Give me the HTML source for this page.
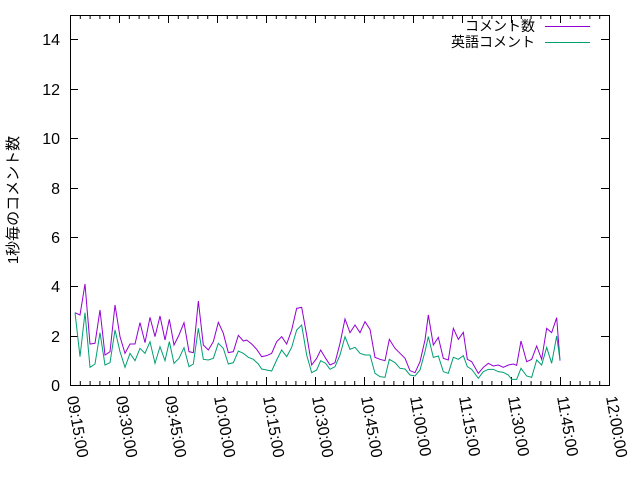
<!DOCTYPE html>
<html><head><meta charset="utf-8"><style>
html,body{margin:0;padding:0;background:#fff;}
svg{display:block;font-family:"Liberation Sans","Noto Sans CJK JP",sans-serif;}
</style></head><body>
<svg width="640" height="480" xmlns="http://www.w3.org/2000/svg">
<rect width="640" height="480" fill="#fff"/>
<g stroke="#000" stroke-width="1" fill="none">
<path d="M70.5,15.5 V385.5 H609.5 V15.5 Z"/>
<path d="M70,385.5h8M70,336.5h8M70,286.5h8M70,237.5h8M70,188.5h8M70,138.5h8M70,89.5h8M70,39.5h8
M609,385.5h-8M609,336.5h-8M609,286.5h-8M609,237.5h-8M609,188.5h-8M609,138.5h-8M609,89.5h-8M609,39.5h-8"/>
<path id="xt" d="M70.5,385v-8M119.5,385v-8M168.5,385v-8M217.5,385v-8M266.5,385v-8M315.5,385v-8M364.5,385v-8M413.5,385v-8M462.5,385v-8M511.5,385v-8M560.5,385v-8M609.5,385v-8
M80.3,385v-4M90.1,385v-4M99.9,385v-4M109.7,385v-4M129.3,385v-4M139.1,385v-4M148.9,385v-4M158.7,385v-4M178.3,385v-4M188.1,385v-4M197.9,385v-4M207.7,385v-4M227.3,385v-4M237.1,385v-4M246.9,385v-4M256.7,385v-4M276.3,385v-4M286.1,385v-4M295.9,385v-4M305.7,385v-4M325.3,385v-4M335.1,385v-4M344.9,385v-4M354.7,385v-4M374.3,385v-4M384.1,385v-4M393.9,385v-4M403.7,385v-4M423.3,385v-4M433.1,385v-4M442.9,385v-4M452.7,385v-4M472.3,385v-4M482.1,385v-4M491.9,385v-4M501.7,385v-4M521.3,385v-4M531.1,385v-4M540.9,385v-4M550.7,385v-4M570.3,385v-4M580.1,385v-4M589.9,385v-4M599.7,385v-4"/>
<use href="#xt" transform="translate(0,400) scale(1,-1)"/>
</g>
<g font-size="16" fill="#000" text-anchor="end">
<text x="60" y="391">0</text><text x="60" y="342">2</text><text x="60" y="292">4</text><text x="60" y="243">6</text><text x="60" y="194">8</text><text x="60" y="144">10</text><text x="60" y="95">12</text><text x="60" y="45">14</text>
</g>
<g font-size="16" fill="#000">
<text transform="translate(67,397) rotate(80)">09:15:00</text>
<text transform="translate(116,397) rotate(80)">09:30:00</text>
<text transform="translate(165,397) rotate(80)">09:45:00</text>
<text transform="translate(214,397) rotate(80)">10:00:00</text>
<text transform="translate(263,397) rotate(80)">10:15:00</text>
<text transform="translate(312,397) rotate(80)">10:30:00</text>
<text transform="translate(361,397) rotate(80)">10:45:00</text>
<text transform="translate(410,397) rotate(80)">11:00:00</text>
<text transform="translate(459,397) rotate(80)">11:15:00</text>
<text transform="translate(508,397) rotate(80)">11:30:00</text>
<text transform="translate(557,397) rotate(80)">11:45:00</text>
<text transform="translate(606,397) rotate(80)">12:00:00</text>
<text transform="translate(18,200) rotate(-90)" text-anchor="middle" font-size="15">1秒毎のコメント数</text>
<text x="535" y="31" text-anchor="end" font-size="14">コメント数</text>
<text x="535" y="47" text-anchor="end" font-size="14">英語コメント</text>
</g>
<path d="M545,26.5h45" stroke="#9400d3"/>
<path d="M545,42.5h45" stroke="#009e73"/>
<g fill="none" stroke-width="1">
<g transform="translate(60,270) scale(0.33333)">
<polyline vector-effect="non-scaling-stroke" stroke="#9400d3" points="45,128 60,135 75,42 90,222 105,220 120,120 135,255 150,245 165,105 180,200 195,250 210,222 225,222 240,158 255,218 270,142 285,200 300,138 315,210 328,148 342,225 357,195 372,158 387,245 400,248 415,93 430,225 445,240 460,215 475,157 490,190 505,248 520,245 535,196 550,213 560,210 575,222 590,238 605,260 620,257 635,250 650,215 665,200 680,222 695,180 710,115 725,112 740,195 755,285 770,265 782,240 797,265 810,285"/>
<polyline vector-effect="non-scaling-stroke" stroke="#009e73" points="45,128 60,260 75,128 90,292 105,282 120,188 135,285 150,278 165,180 180,245 195,292 210,250 225,272 240,235 255,250 270,215 285,280 300,230 315,272 328,215 342,280 357,265 372,233 387,290 400,282 415,175 430,268 445,270 460,265 475,220 490,235 505,282 520,278 535,243 550,250 565,262 580,268 595,282 605,297 620,300 635,303 650,270 665,240 680,260 695,232 710,180 725,165 740,255 755,308 770,300 782,272 797,280 810,298"/>
</g>
<g transform="translate(330,270) scale(0.33333)">
<polyline vector-effect="non-scaling-stroke" stroke="#9400d3" points="0,285 15,278 30,220 45,147 60,188 75,165 90,188 105,155 120,178 135,262 150,268 165,272 178,208 195,235 210,250 225,265 240,302 255,308 270,275 285,210 295,135 310,225 325,202 340,265 355,270 370,175 385,208 400,187 412,268 425,275 445,310 460,292 475,280 490,288 505,285 520,292 535,285 550,282 560,286 573,213 590,275 605,268 620,228 635,268 650,175 665,188 680,143 690,272"/>
<polyline vector-effect="non-scaling-stroke" stroke="#009e73" points="0,298 15,290 30,255 45,200 60,238 75,232 90,250 105,255 120,255 135,310 150,320 165,322 178,268 195,278 210,295 225,297 240,315 255,318 270,300 285,245 295,200 310,262 325,258 340,305 355,310 370,262 385,268 400,257 412,290 425,298 445,325 460,305 475,298 490,298 505,305 520,307 535,315 545,328 560,328 573,295 590,318 605,322 620,270 635,285 650,232 665,280 680,198 690,270"/>
</g>
</g>
</svg>
</body></html>
